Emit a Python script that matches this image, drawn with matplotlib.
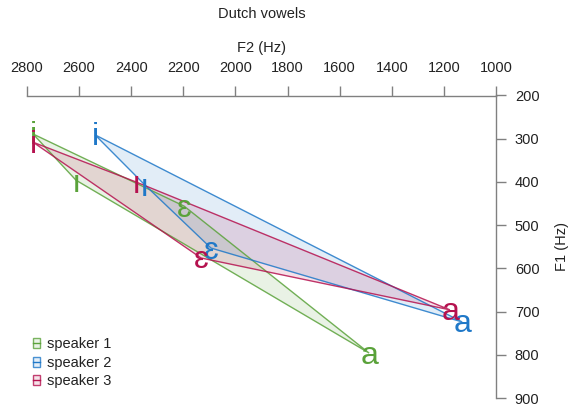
import matplotlib
matplotlib.use("Agg")
import matplotlib.pyplot as plt
from matplotlib.patches import Polygon, Patch
from matplotlib.lines import Line2D
from matplotlib.legend_handler import HandlerTuple
from matplotlib.colors import to_rgba
from matplotlib.transforms import offset_copy

plt.rcParams['font.family'] = ['Liberation Sans', 'DejaVu Sans']

vowels = ['i', 'ɪ', 'ɛ', 'a']
speakers = ['speaker 1', 'speaker 2', 'speaker 3']
f2_s1 = [2777, 2612, 2197, 1487]
f1_s1 = [289, 396, 456, 796]
f2_s2 = [2539, 2351, 2094, 1130]
f1_s2 = [291, 405, 553, 724]
f2_s3 = [2777, 2382, 2132, 1177]
f1_s3 = [308, 400, 576, 696]
colors = ['#5aa23a', '#1f78c8', '#b5124f']
xticks = [2800, 2600, 2400, 2200, 2000, 1800, 1600, 1400, 1200, 1000]
yticks = [200, 300, 400, 500, 600, 700, 800, 900]

# glyph font per vowel (sans-serif small-capital I needs Lato)
vowel_font = {'i': 'Liberation Sans', 'ɪ': 'Lato', 'ɛ': 'Liberation Sans', 'a': 'Liberation Sans'}


def hull(pts):
    pts = sorted(pts)
    def cross(o, a, b):
        return (a[0]-o[0])*(b[1]-o[1]) - (a[1]-o[1])*(b[0]-o[0])
    lower, upper = [], []
    for p in pts:
        while len(lower) >= 2 and cross(lower[-2], lower[-1], p) <= 0:
            lower.pop()
        lower.append(p)
    for p in reversed(pts):
        while len(upper) >= 2 and cross(upper[-2], upper[-1], p) <= 0:
            upper.pop()
        upper.append(p)
    return lower[:-1] + upper[:-1]


fig = plt.figure(figsize=(5.68, 4.07), dpi=100)
ax = fig.add_axes([27/568, 1-398/407, (496-27)/568, (398-95.5)/407])
label_tr = offset_copy(ax.transData, fig=fig, x=0.5, y=-2.5, units='dots')

data = [(f2_s1, f1_s1), (f2_s2, f1_s2), (f2_s3, f1_s3)]
handles = []
for (f2, f1), c, name in zip(data, colors, speakers):
    poly = hull(list(zip(f2, f1)))
    ax.add_patch(Polygon(poly, closed=True, facecolor=to_rgba(c, 0.13),
                         edgecolor='none', zorder=1))
    ax.add_patch(Polygon(poly, closed=True, facecolor='none', edgecolor=c,
                         lw=1.0, alpha=0.85, zorder=2))
    for v, x, y in zip(vowels, f2, f1):
        ax.text(x, y, v, color=c, fontsize=23, ha='center', va='center',
                family=[vowel_font[v], 'DejaVu Sans'], zorder=3,
                transform=label_tr)
    handles.append((Patch(facecolor=to_rgba(c, 0.12), edgecolor=to_rgba(c, 0.8), lw=1.0),
                    Line2D([], [], color=c, lw=1.0)))

ax.set_xlim(2800, 1000)
ax.set_ylim(900, 200)
ax.set_xticks(xticks)
ax.set_yticks(yticks)
for s in ['left', 'bottom']:
    ax.spines[s].set_visible(False)
for s in ['top', 'right']:
    ax.spines[s].set_color('#808080')
    ax.spines[s].set_linewidth(1.0)
ax.xaxis.tick_top()
ax.yaxis.tick_right()
ax.tick_params(axis='both', colors='#808080', labelcolor='#222222',
               labelsize=10.5, length=7, width=1.0)
ax.tick_params(axis='x', pad=7.4)
ax.tick_params(axis='y', pad=6.5)
ax.xaxis.set_label_position('top')
ax.yaxis.set_label_position('right')
ax.set_xlabel('F2 (Hz)', fontsize=10.5, color='#222222', labelpad=7)
ax.set_ylabel('F1 (Hz)', fontsize=10.5, color='#222222', labelpad=11)
fig.text(262/568, 1-14/407, 'Dutch vowels', ha='center', va='center',
         fontsize=10.5, color='#222222')

leg = ax.legend(handles, speakers, handler_map={tuple: HandlerTuple(ndivide=1)},
                loc='lower left', bbox_to_anchor=(0.0, 0.013), frameon=False,
                fontsize=10.5, handlelength=0.5, handleheight=0.65,
                handletextpad=0.45, labelspacing=0.3, borderaxespad=0.2,
                borderpad=0.2)
for t in leg.get_texts():
    t.set_color('#222222')

fig.savefig('out.png', dpi=100)
